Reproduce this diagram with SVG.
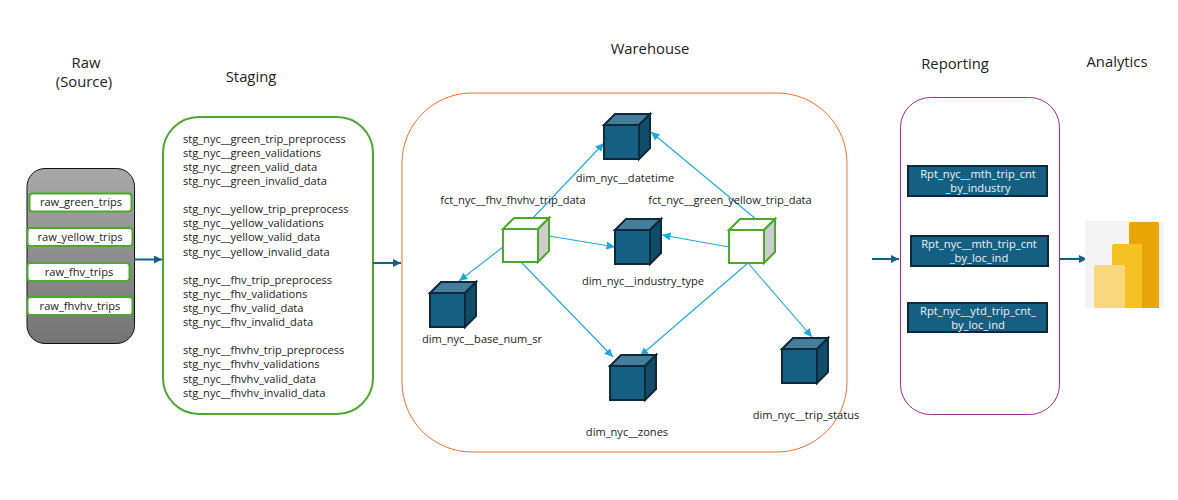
<svg xmlns="http://www.w3.org/2000/svg" width="1178" height="500" viewBox="0 0 1178 500">
<style>
text{font-family:"Open Sans","Noto Sans","Liberation Sans",sans-serif;font-size:11.1px;fill:#222}
.h{font-size:14.800px;text-anchor:middle}
.m{text-anchor:middle}
.r{font-size:11.200px;text-anchor:middle;fill:#eef3f6}
.rawbox{fill:#fff;stroke:#4ea72e;stroke-width:2}
.rep{fill:#156082;stroke:#0d2a3c;stroke-width:2}
.flow{stroke:#156082;stroke-width:2;fill:none;marker-end:url(#fa)}
.link{stroke:#1fa6dc;stroke-width:1.1;fill:none;marker-end:url(#la)}
</style>
<defs>
<linearGradient id="g" x1="0" y1="0" x2="0" y2="1"><stop offset="0" stop-color="#a8a8a8"/><stop offset="1" stop-color="#747474"/></linearGradient>
<marker id="fa" markerUnits="userSpaceOnUse" markerWidth="9" markerHeight="9" refX="8" refY="4" orient="auto"><path d="M0,0L8,4L0,8z" fill="#156082"/></marker>
<marker id="la" markerUnits="userSpaceOnUse" markerWidth="10" markerHeight="10" refX="8.5" refY="4" orient="auto"><path d="M0,0L8.5,4L0,8z" fill="#1fa6dc"/></marker>
<g id="dimcube" stroke="#0d2a3c" stroke-width="2" stroke-linejoin="miter">
<rect x="0" y="0" width="35" height="34" fill="#156082"/>
<path d="M0,0L11,-11H46L35,0z" fill="#447e9b"/>
<path d="M35,0L46,-11V23L35,34z" fill="#114d68"/>
</g>
<g id="factcube" stroke="#4ea72e" stroke-width="2">
<rect x="0" y="0" width="35" height="33" fill="#fff"/>
<path d="M0,0L11,-11H46L35,0z" fill="#fff"/>
<path d="M35,0L46,-11V22L35,33z" fill="#cdcdcd"/>
</g>
</defs>

<g id="headings">
<text class="h" x="86" y="68">Raw</text>
<text class="h" x="84" y="87">(Source)</text>
<text class="h" x="251" y="82">Staging</text>
<text class="h" x="650" y="54">Warehouse</text>
<text class="h" x="955" y="69">Reporting</text>
<text class="h" x="1117" y="67">Analytics</text>
</g>

<g id="raw">
<rect x="27" y="168.500" width="107.500" height="175" rx="18" fill="url(#g)" stroke="#111" stroke-width="1"/>
<g id="raw_green_trips"><rect class="rawbox" x="29.500" y="193.500" width="102" height="18" rx="3"/><text class="m" x="81" y="206">raw_green_trips</text></g>
<g id="raw_yellow_trips"><rect class="rawbox" x="27.500" y="228" width="105" height="18" rx="3"/><text class="m" x="80" y="241">raw_yellow_trips</text></g>
<g id="raw_fhv_trips"><rect class="rawbox" x="27.500" y="263" width="102" height="18" rx="3"/><text class="m" x="79" y="276">raw_fhv_trips</text></g>
<g id="raw_fhvhv_trips"><rect class="rawbox" x="27.500" y="297" width="105" height="18" rx="3"/><text class="m" x="80" y="310">raw_fhvhv_trips</text></g>
</g>

<g id="staging">
<rect x="163" y="117" width="210" height="297" rx="36" fill="#fff" stroke="#4ea72e" stroke-width="2"/>
<text x="183" y="143">stg_nyc__green_trip_preprocess</text>
<text x="183" y="157">stg_nyc__green_validations</text>
<text x="183" y="171">stg_nyc__green_valid_data</text>
<text x="183" y="185">stg_nyc__green_invalid_data</text>
<text x="183" y="213">stg_nyc__yellow_trip_preprocess</text>
<text x="183" y="227">stg_nyc__yellow_validations</text>
<text x="183" y="241">stg_nyc__yellow_valid_data</text>
<text x="183" y="256">stg_nyc__yellow_invalid_data</text>
<text x="183" y="284">stg_nyc__fhv_trip_preprocess</text>
<text x="183" y="298">stg_nyc__fhv_validations</text>
<text x="183" y="312">stg_nyc__fhv_valid_data</text>
<text x="183" y="326">stg_nyc__fhv_invalid_data</text>
<text x="183" y="354">stg_nyc__fhvhv_trip_preprocess</text>
<text x="183" y="368">stg_nyc__fhvhv_validations</text>
<text x="183" y="383">stg_nyc__fhvhv_valid_data</text>
<text x="183" y="397">stg_nyc__fhvhv_invalid_data</text>
</g>

<g id="warehouse">
<rect x="402" y="93" width="445" height="359" rx="70" fill="#fff" stroke="#e97132" stroke-width="1"/>
</g>

<g id="connectors">
<path class="flow" d="M134,259.500H162"/>
<path class="flow" d="M373,263H401"/>
<path class="flow" d="M872,259H899"/>
<path class="flow" d="M1059,259H1087"/>
<path class="link" d="M532,219L604,143"/>
<path class="link" d="M549,236L615,247"/>
<path class="link" d="M503,247L459,281"/>
<path class="link" d="M521,262L613,357"/>
<path class="link" d="M757,220L651,132"/>
<path class="link" d="M729,247L662,235"/>
<path class="link" d="M748,263L640,356"/>
<path class="link" d="M748,263L812,337"/>
</g>

<g id="dim_datetime"><use href="#dimcube" x="604" y="125"/><text class="m" x="625" y="182">dim_nyc__datetime</text></g>
<g id="dim_industry_type"><use href="#dimcube" x="615" y="230"/><text class="m" x="643" y="285">dim_nyc__industry_type</text></g>
<g id="dim_base_num_sr"><use href="#dimcube" x="430" y="293"/><text class="m" x="482" y="343">dim_nyc__base_num_sr</text></g>
<g id="dim_zones"><use href="#dimcube" x="610" y="366"/><text class="m" x="627" y="436">dim_nyc__zones</text></g>
<g id="dim_trip_status"><use href="#dimcube" x="782" y="349"/><text class="m" x="806" y="419">dim_nyc__trip_status</text></g>
<g id="fct_fhv"><use href="#factcube" x="503" y="229"/><text class="m" x="513" y="204">fct_nyc__fhv_fhvhv_trip_data</text></g>
<g id="fct_green_yellow"><use href="#factcube" x="729" y="230"/><text class="m" x="730" y="204">fct_nyc__green_yellow_trip_data</text></g>

<g id="reporting">
<rect x="900.500" y="97.500" width="159" height="317" rx="30" fill="#fff" stroke="#a02b93" stroke-width="1"/>
<g id="rpt1"><rect class="rep" x="908" y="166" width="139" height="30"/><text class="r" x="978" y="178">Rpt_nyc__mth_trip_cnt</text><text class="r" x="978" y="192">_by_industry</text></g>
<g id="rpt2"><rect class="rep" x="911" y="236" width="137" height="30"/><text class="r" x="979" y="248">Rpt_nyc__mth_trip_cnt</text><text class="r" x="979" y="262">_by_loc_ind</text></g>
<g id="rpt3"><rect class="rep" x="908" y="303" width="139" height="29"/><text class="r" x="978" y="315">Rpt_nyc__ytd_trip_cnt_</text><text class="r" x="978" y="329">by_loc_ind</text></g>
</g>

<g id="analytics">
<rect x="1085" y="221" width="79" height="87" fill="#f4f4f4"/>
<path d="M1131,222H1157a2,2 0 0 1 2,2V308H1129V224a2,2 0 0 1 2,-2z" fill="#e8a507"/>
<path d="M1114,244H1140a2,2 0 0 1 2,2V308H1112V246a2,2 0 0 1 2,-2z" fill="#f6c125"/>
<path d="M1096,265H1123a2,2 0 0 1 2,2V308H1094V267a2,2 0 0 1 2,-2z" fill="#f8d77f"/>
</g>
</svg>
